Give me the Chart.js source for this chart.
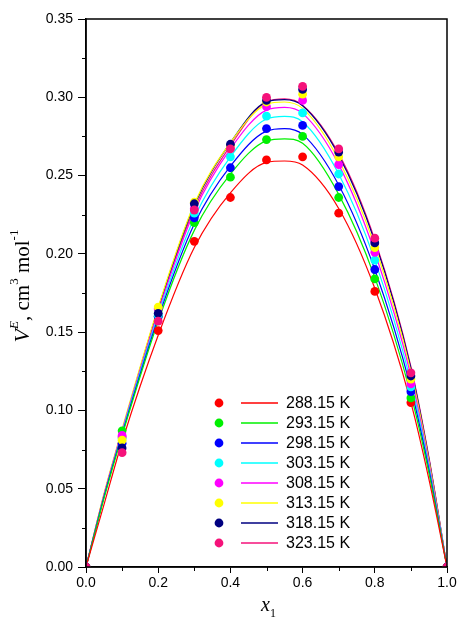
<!DOCTYPE html>
<html>
<head>
<meta charset="utf-8">
<script src="https://cdn.jsdelivr.net/npm/chart.js@4.4.1/dist/chart.umd.min.js"></script>
<style>
  html, body { margin: 0; padding: 0; background: #fff; }
</style>
</head>
<body>
<canvas id="chart" width="461" height="633"></canvas>
<script>
// Legend labels and colours, one per temperature
const temps = ['288.15 K', '293.15 K', '298.15 K', '303.15 K', '308.15 K', '313.15 K', '318.15 K', '323.15 K'];
const colors = ['#FF0000', '#00F000', '#0000FF', '#00FFFF', '#FF00FF', '#FFFF00', '#000080', '#F5127A'];

// Experimental points (x1, V^E)
const expX = [0, 0.1, 0.2, 0.3, 0.4, 0.5, 0.6, 0.7, 0.8, 0.9, 1.0];
const exp288 = [0, 0.083, 0.151, 0.208, 0.236, 0.260, 0.262, 0.226, 0.176, 0.105, 0];
const exp293 = [0, 0.087, 0.160, 0.220, 0.249, 0.273, 0.275, 0.236, 0.184, 0.108, 0];
const exp298 = [0, 0.079, 0.160, 0.223, 0.255, 0.280, 0.282, 0.243, 0.190, 0.112, 0];
const exp303 = [0, 0.082, 0.161, 0.226, 0.262, 0.288, 0.290, 0.251, 0.196, 0.115, 0];
const exp308 = [0, 0.084, 0.165, 0.229, 0.268, 0.294, 0.298, 0.257, 0.201, 0.117, 0];
const exp313 = [0, 0.081, 0.166, 0.233, 0.269, 0.297, 0.302, 0.262, 0.204, 0.120, 0];
const exp318 = [0, 0.076, 0.162, 0.232, 0.270, 0.298, 0.305, 0.265, 0.207, 0.122, 0];
const exp323 = [0, 0.073, 0.157, 0.228, 0.267, 0.300, 0.307, 0.267, 0.210, 0.124, 0];

// Fitted curves at these x1 values
const fitX = [0, 0.05, 0.1, 0.2, 0.3, 0.4, 0.5, 0.55, 0.6, 0.7, 0.8, 0.9, 0.95, 1];
const fit288 = [0, 0.040, 0.080, 0.148, 0.204, 0.239, 0.2584, 0.2593, 0.2567, 0.229, 0.178, 0.105, 0.056, 0];
const fit293 = [0, 0.044, 0.084, 0.157, 0.215, 0.251, 0.2722, 0.2735, 0.2706, 0.238, 0.185, 0.110, 0.060, 0];
const fit298 = [0, 0.045, 0.085, 0.159, 0.219, 0.256, 0.2784, 0.2800, 0.2763, 0.244, 0.190, 0.114, 0.062, 0];
const fit303 = [0, 0.045, 0.086, 0.161, 0.223, 0.262, 0.2861, 0.2878, 0.2844, 0.251, 0.196, 0.118, 0.064, 0];
const fit308 = [0, 0.046, 0.087, 0.163, 0.227, 0.267, 0.2918, 0.2935, 0.2897, 0.257, 0.201, 0.122, 0.066, 0];
const fit313 = [0, 0.047, 0.088, 0.166, 0.232, 0.271, 0.2955, 0.2970, 0.2929, 0.260, 0.205, 0.125, 0.068, 0];
const fit318 = [0, 0.046, 0.087, 0.165, 0.231, 0.271, 0.2971, 0.2985, 0.2946, 0.263, 0.208, 0.127, 0.069, 0];
const fit323 = [0, 0.046, 0.086, 0.164, 0.229, 0.269, 0.2971, 0.2990, 0.2950, 0.264, 0.209, 0.128, 0.070, 0];

// Axis ticks
const xTicks = [0, 0.2, 0.4, 0.6, 0.8, 1.0];
const xMinor = [0.1, 0.3, 0.5, 0.7, 0.9];
const yTicks = [0, 0.05, 0.10, 0.15, 0.20, 0.25, 0.30, 0.35];
const yMinor = [0.025, 0.075, 0.125, 0.175, 0.225, 0.275, 0.325];

const expSeries = [exp288, exp293, exp298, exp303, exp308, exp313, exp318, exp323];
const fitSeries = [fit288, fit293, fit298, fit303, fit308, fit313, fit318, fit323];

const toPoints = (xs, ys) => xs.map((x, i) => ({ x: x, y: ys[i] }));

const datasets = [];
// curves first, drawn underneath the markers
fitSeries.forEach((ys, i) => {
    datasets.push({
        label: temps[i] + ' fit',
        data: toPoints(fitX, ys),
        showLine: true,
        borderColor: colors[i],
        borderWidth: 1.2,
        pointRadius: 0,
        cubicInterpolationMode: 'monotone',
        order: 20
    });
});
// markers: 323.15 K ends up on top
expSeries.forEach((ys, i) => {
    datasets.push({
        label: temps[i],
        data: toPoints(expX, ys),
        showLine: false,
        backgroundColor: colors[i],
        borderWidth: 0,
        pointRadius: 4.4,
        order: 7 - i
    });
});

// draws the frame, minor ticks, inset legend and axis titles
const extras = {
    id: 'extras',
    afterDraw(chart) {
        const { ctx, chartArea: a, scales } = chart;
        ctx.save();
        ctx.strokeStyle = '#000';
        ctx.lineWidth = 1.5;
        ctx.strokeRect(a.left, a.top, a.right - a.left, a.bottom - a.top);

        ctx.lineWidth = 1;
        ctx.beginPath();
        xMinor.forEach(v => {
            const p = Math.round(scales.x.getPixelForValue(v)) + 0.5;
            ctx.moveTo(p, a.bottom); ctx.lineTo(p, a.bottom + 4);
        });
        yMinor.forEach(v => {
            const p = Math.round(scales.y.getPixelForValue(v)) + 0.5;
            ctx.moveTo(a.left, p); ctx.lineTo(a.left - 4, p);
        });
        ctx.stroke();

        // legend inside the plot
        ctx.font = '16px "Liberation Sans", Arial, sans-serif';
        ctx.textBaseline = 'middle';
        ctx.textAlign = 'left';
        temps.forEach((t, i) => {
            const yy = 403 + i * 20;
            ctx.fillStyle = colors[i];
            ctx.beginPath();
            ctx.arc(219, yy, 4.4, 0, Math.PI * 2);
            ctx.fill();
            ctx.strokeStyle = colors[i];
            ctx.lineWidth = 1.3;
            ctx.beginPath();
            ctx.moveTo(241, yy); ctx.lineTo(278, yy);
            ctx.stroke();
            ctx.fillStyle = '#000';
            ctx.fillText(t, 286, yy + 1);
        });

        // axis titles with super/subscripts
        const serif = '"Liberation Serif", "Times New Roman", serif';
        const yParts = [
            { t: 'V', f: 'italic 22px ' + serif, dy: 0 },
            { t: 'E', f: 'italic 13px ' + serif, dy: -11 },
            { t: ', cm', f: '21px ' + serif, dy: 0 },
            { t: '3', f: '13px ' + serif, dy: -11 },
            { t: ' mol', f: '21px ' + serif, dy: 0 },
            { t: '-1', f: '13px ' + serif, dy: -11 }
        ];
        ctx.fillStyle = '#000';
        ctx.textBaseline = 'alphabetic';
        let total = 0;
        yParts.forEach(p => { ctx.font = p.f; total += ctx.measureText(p.t).width; });
        ctx.save();
        ctx.translate(29, 286);
        ctx.rotate(-Math.PI / 2);
        let cx = -total / 2;
        yParts.forEach(p => {
            ctx.font = p.f;
            ctx.fillText(p.t, cx, p.dy);
            cx += ctx.measureText(p.t).width;
        });
        ctx.restore();

        ctx.font = 'italic 20px ' + serif;
        const wx = ctx.measureText('x').width;
        ctx.fillText('x', 261, 611);
        ctx.font = '12px ' + serif;
        ctx.fillText('1', 261 + wx, 617);

        ctx.restore();
    }
};

const tickFont = { family: '"Liberation Sans", Arial, sans-serif', size: 14 };

new Chart(document.getElementById('chart'), {
    type: 'scatter',
    data: { datasets: datasets },
    options: {
        responsive: false,
        animation: false,
        layout: { padding: { top: 19, right: 14, left: 0, bottom: 0 } },
        plugins: { legend: { display: false }, tooltip: { enabled: false } },
        scales: {
            x: {
                type: 'linear',
                min: 0,
                max: 1,
                afterBuildTicks: s => { s.ticks = xTicks.map(v => ({ value: v })); },
                afterFit: s => { s.height = 66; },
                ticks: {
                    font: tickFont,
                    color: '#000',
                    padding: 2,
                    maxRotation: 0,
                    callback: v => Number(v).toFixed(1)
                },
                grid: { drawOnChartArea: false, tickLength: 6, tickColor: '#000', tickWidth: 1 },
                border: { display: true, color: '#000', width: 1.5 }
            },
            y: {
                type: 'linear',
                min: 0,
                max: 0.35,
                afterBuildTicks: s => { s.ticks = yTicks.map(v => ({ value: v })); },
                afterFit: s => { s.width = 86; },
                ticks: {
                    font: tickFont,
                    color: '#000',
                    padding: 5,
                    callback: v => Number(v).toFixed(2)
                },
                grid: { drawOnChartArea: false, tickLength: 8, tickColor: '#000', tickWidth: 1 },
                border: { display: true, color: '#000', width: 1.5 }
            }
        }
    },
    plugins: [extras]
});
</script>
</body>
</html>
